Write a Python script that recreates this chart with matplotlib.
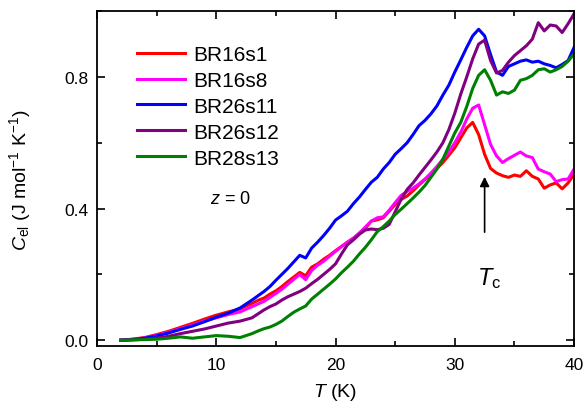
"""Electronic specific heat vs temperature for several samples."""
import matplotlib
matplotlib.use('Agg')
import matplotlib.pyplot as plt
from matplotlib.ticker import MultipleLocator

plt.rcParams['font.family'] = ['Liberation Sans', 'DejaVu Sans']
plt.rcParams['mathtext.fontset'] = 'custom'
plt.rcParams['mathtext.rm'] = 'Liberation Sans'
plt.rcParams['mathtext.it'] = 'Liberation Sans:italic'

# temperature grid (K)
T = [2, 3, 4, 5, 6, 7, 8, 9, 10, 11, 12, 13,
     13.5, 14, 14.5, 15, 15.5, 16, 16.5, 17, 17.5, 18, 18.5, 19, 19.5, 20,
     20.5, 21, 21.5, 22, 22.5, 23, 23.5, 24, 24.5, 25, 25.5, 26, 26.5, 27,
     27.5, 28, 28.5, 29, 29.5, 30, 30.5, 31, 31.5, 32, 32.5, 33, 33.5, 34,
     34.5, 35, 35.5, 36, 36.5, 37, 37.5, 38, 38.5, 39, 39.5, 40]

br16s1 = [0.000, 0.003, 0.008, 0.017, 0.027, 0.039, 0.051, 0.064, 0.076, 0.086, 0.095, 0.112,
          0.121, 0.128, 0.140, 0.150, 0.163, 0.178, 0.192, 0.206, 0.196, 0.222, 0.232, 0.246, 0.258, 0.272,
          0.285, 0.298, 0.310, 0.325, 0.340, 0.362, 0.366, 0.372, 0.392, 0.412, 0.428, 0.438, 0.454, 0.472,
          0.488, 0.503, 0.522, 0.540, 0.562, 0.585, 0.615, 0.645, 0.662, 0.625, 0.565, 0.522, 0.508, 0.500,
          0.495, 0.502, 0.498, 0.515, 0.498, 0.490, 0.462, 0.472, 0.478, 0.460, 0.478, 0.505]

br16s8 = [0.000, 0.003, 0.007, 0.015, 0.024, 0.035, 0.046, 0.058, 0.068, 0.078, 0.086, 0.102,
          0.110, 0.118, 0.130, 0.142, 0.155, 0.170, 0.185, 0.200, 0.184, 0.212, 0.228, 0.240, 0.255, 0.270,
          0.284, 0.298, 0.310, 0.326, 0.344, 0.362, 0.372, 0.375, 0.395, 0.418, 0.440, 0.452, 0.462, 0.475,
          0.490, 0.508, 0.528, 0.550, 0.572, 0.600, 0.632, 0.672, 0.705, 0.715, 0.655, 0.595, 0.560, 0.540,
          0.552, 0.562, 0.572, 0.560, 0.555, 0.520, 0.512, 0.505, 0.482, 0.488, 0.490, 0.520]

br26s11 = [0.000, 0.002, 0.006, 0.013, 0.022, 0.033, 0.043, 0.056, 0.070, 0.082, 0.098, 0.122,
           0.135, 0.148, 0.163, 0.182, 0.200, 0.218, 0.238, 0.258, 0.250, 0.280, 0.298, 0.318, 0.340, 0.365,
           0.378, 0.392, 0.415, 0.435, 0.458, 0.480, 0.495, 0.520, 0.540, 0.565, 0.582, 0.600, 0.625, 0.652,
           0.668, 0.688, 0.712, 0.745, 0.775, 0.815, 0.852, 0.890, 0.925, 0.945, 0.925, 0.868, 0.815, 0.805,
           0.832, 0.840, 0.848, 0.852, 0.845, 0.848, 0.840, 0.835, 0.828, 0.838, 0.850, 0.890]

br26s12 = [0.000, 0.001, 0.003, 0.006, 0.012, 0.020, 0.027, 0.034, 0.043, 0.052, 0.058, 0.068,
           0.080, 0.092, 0.102, 0.110, 0.122, 0.132, 0.140, 0.148, 0.158, 0.172, 0.185, 0.200, 0.215, 0.232,
           0.262, 0.290, 0.305, 0.322, 0.335, 0.338, 0.336, 0.340, 0.352, 0.390, 0.428, 0.458, 0.478, 0.502,
           0.525, 0.548, 0.572, 0.600, 0.640, 0.690, 0.748, 0.800, 0.855, 0.900, 0.912, 0.850, 0.812, 0.820,
           0.845, 0.865, 0.880, 0.895, 0.915, 0.965, 0.940, 0.958, 0.955, 0.935, 0.962, 0.992]

br28s13 = [0.000, 0.001, 0.002, 0.003, 0.006, 0.010, 0.006, 0.010, 0.014, 0.012, 0.008, 0.020,
           0.028, 0.035, 0.040, 0.048, 0.058, 0.072, 0.085, 0.095, 0.104, 0.125, 0.140, 0.155, 0.170, 0.186,
           0.205, 0.222, 0.240, 0.262, 0.282, 0.305, 0.330, 0.345, 0.362, 0.382, 0.398, 0.415, 0.432, 0.450,
           0.470, 0.495, 0.520, 0.550, 0.590, 0.630, 0.662, 0.710, 0.765, 0.805, 0.822, 0.790, 0.745, 0.755,
           0.750, 0.760, 0.790, 0.795, 0.805, 0.822, 0.825, 0.815, 0.822, 0.832, 0.848, 0.870]

series = [('BR16s1', br16s1, '#ff0000'),
          ('BR16s8', br16s8, '#ff00ff'),
          ('BR26s11', br26s11, '#0000ff'),
          ('BR26s12', br26s12, '#800080'),
          ('BR28s13', br28s13, '#008000')]

fig = plt.figure(figsize=(5.84, 4.06), dpi=100)
ax = fig.add_axes([0.166, 0.145, 0.817, 0.825])

for name, vals, col in series:
    ax.plot(T, vals, color=col, linewidth=2.2, label=name)

ax.set_xlim(0, 40)
ax.set_ylim(-0.018, 1.0)
ax.xaxis.set_major_locator(MultipleLocator(10))
ax.xaxis.set_minor_locator(MultipleLocator(5))
ax.yaxis.set_major_locator(MultipleLocator(0.4))
ax.yaxis.set_minor_locator(MultipleLocator(0.2))
ax.yaxis.set_major_formatter(plt.FormatStrFormatter('%.1f'))
ax.tick_params(which='both', direction='in', top=True, right=True, width=1.2,
               labelsize=12.5)
ax.tick_params(axis='x', pad=8)
ax.tick_params(axis='y', pad=6)
ax.tick_params(which='major', length=6)
ax.tick_params(which='minor', length=3.5)
for sp in ax.spines.values():
    sp.set_linewidth(1.3)

ax.set_xlabel(r'$\mathit{T}$ (K)', fontsize=14)
ax.set_ylabel(r'$C_{\rm el}$ (J mol$^{-1}$ K$^{-1}$)', fontsize=14)
ax.xaxis.set_label_coords(0.5, -0.105)
ax.yaxis.set_label_coords(-0.135, 0.5)

ax.legend(loc='upper left', bbox_to_anchor=(0.045, 0.955), frameon=False,
          fontsize=15, handlelength=2.3, handletextpad=0.4, labelspacing=0.33)

ax.text(11.2, 0.43, r'$z$ = 0', fontsize=13, ha='center', va='center')

# T_c marker
ax.annotate('', xy=(32.5, 0.505), xytext=(32.5, 0.32),
            arrowprops=dict(arrowstyle='-|>', color='black', lw=1.2,
                            mutation_scale=14))
ax.text(32.9, 0.17, r'$T_{\rm c}$', fontsize=17, ha='center', va='baseline')

fig.savefig('out.png', dpi=100)
